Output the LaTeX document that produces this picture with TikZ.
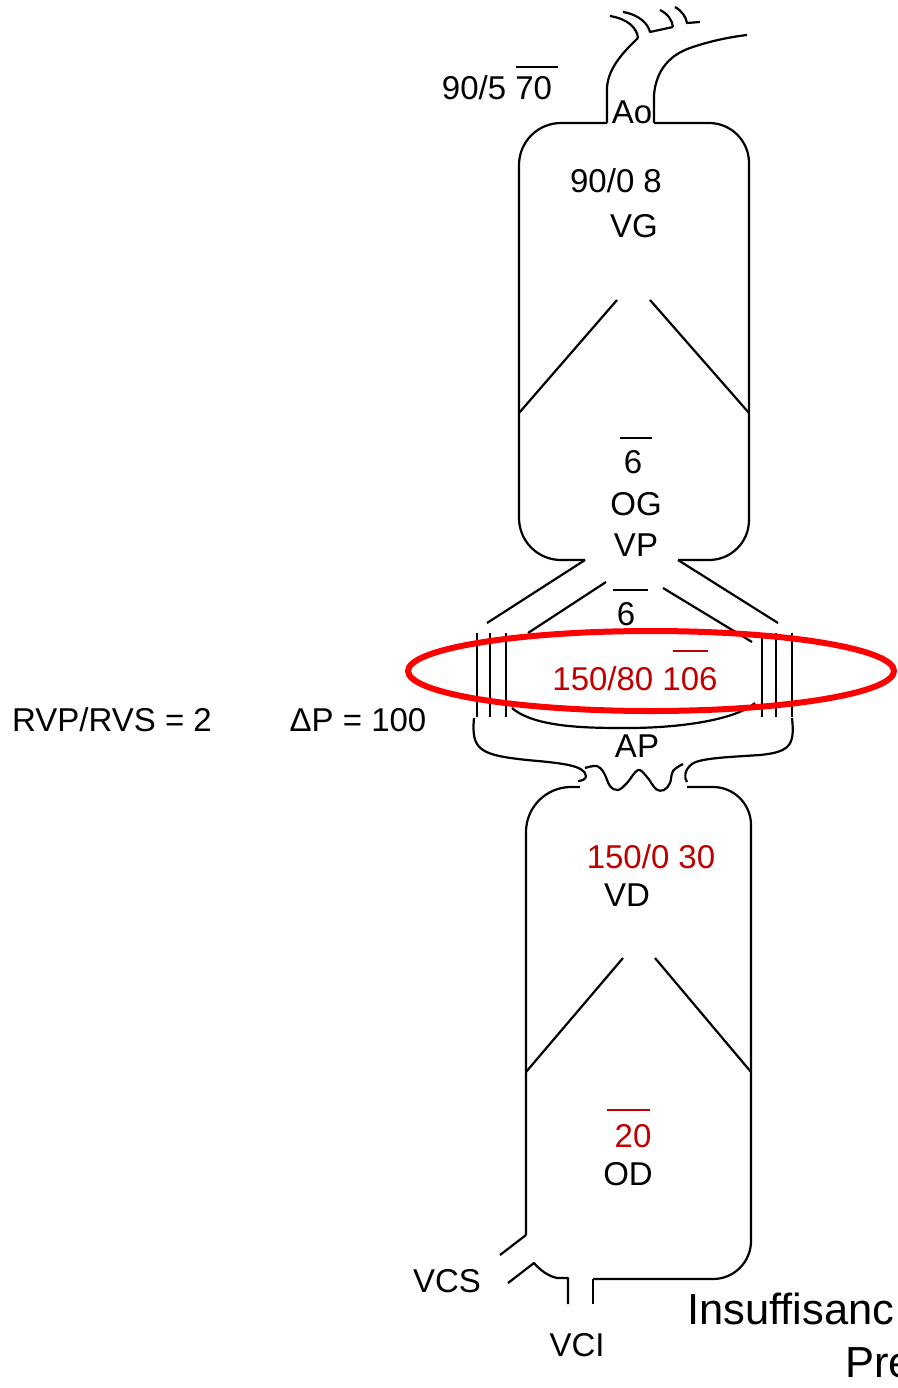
\documentclass[tikz,border=0pt]{standalone}
\usepackage{fontspec}
\setmainfont{Liberation Sans}
\begin{document}
\begin{tikzpicture}[x=1pt,y=-1pt,
  wall/.style={line width=2.2pt,line join=round},
  lbl/.style={inner sep=0pt,anchor=base,font=\fontsize{33}{39}\selectfont},
  big/.style={inner sep=0pt,anchor=base west,font=\fontsize{43.5}{50}\selectfont},
  bar/.style={line width=2.2pt},
  hot/.style={text=darkred}]
\definecolor{darkred}{RGB}{192,0,0}
\useasboundingbox (0,0) rectangle (897,1388);

% ---- aorta and its branches ----
\draw[wall] (607,123) -- (607,88) .. controls (608,70) and (620,55) .. (638,38);
\draw[wall] (654,123) -- (654,95) .. controls (656,70) and (670,55) .. (690,48)
            .. controls (710,41) and (730,37) .. (747,35);
\draw[wall] (610,16) .. controls (628,19) and (637,28) .. (638,38);
\draw[wall] (623,12) .. controls (640,15) and (648,24) .. (650,32) -- (673,27);
\draw[wall] (660,10) .. controls (668,14) and (672,20) .. (673,27);
\draw[wall] (675,7) .. controls (682,11) and (686,17) .. (687,23) -- (700,22);

% ---- left heart (OG / VG) ----
\draw[wall,rounded corners=42] (607,123) -- (519,123) -- (519,560) -- (585,560);
\draw[wall,rounded corners=40] (654,123) -- (749,123) -- (749,560) -- (678,560);
\draw[wall] (617,300) -- (519,413);
\draw[wall] (650,300) -- (749,413);

% ---- pulmonary veins and artery ----
\draw[wall] (585,560) -- (487,623);
\draw[wall] (678,560) -- (778,623);
\draw[wall] (606,582) -- (528,633);
\draw[wall] (663,588) -- (752,642);
\foreach \x in {477,490,506,762,776,792}
  \draw[wall] (\x,633) -- (\x,717);
\draw[wall] (512,708) .. controls (535,728) and (590,728) .. (627,728)
            .. controls (680,728) and (735,720) .. (755,703);
\draw[wall] (474,718) .. controls (471,750) and (480,755) .. (527,760)
            .. controls (560,763) and (585,765) .. (586,776)
            .. controls (586,779) and (582,781) .. (578,781);
\draw[wall] plot[smooth,tension=0.6] coordinates {(585,768) (597,766) (604,773)
  (610,786) (618,790) (627,783) (638,770) (647,777) (656,789) (664,790)
  (670,783) (673,771) (683,764)};
\draw[wall] (792,718) .. controls (795,745) and (790,752) .. (760,755)
            .. controls (730,757) and (700,758) .. (692,764)
            .. controls (684,770) and (684,778) .. (687,782);

% ---- right heart (OD / VD) ----
\draw[wall,rounded corners=45] (580,787) -- (526,787) -- (526,1235);
\draw[wall] (526,1235) -- (500,1255);
\draw[wall,rounded corners=38] (687,787) -- (751,787) -- (751,1279) -- (593,1279);
\draw[wall] (593,1279) -- (593,1304);
\draw[wall] (568,1304) -- (568,1278) -- (557,1278)
            .. controls (548,1276) and (540,1270) .. (534,1263) -- (508,1283);
\draw[wall] (623,958) -- (526,1072);
\draw[wall] (655,958) -- (751,1072);

% ---- labels ----
\node[lbl] (aoP) at (497,100) {90/5 70};
\draw[bar] (516,67) -- (558,67);
\node[lbl] (ao) at (632,124) {Ao};
\node[lbl] (vgP) at (616,193) {90/0 8};
\node[lbl] (vg) at (634,237) {VG};
\node[lbl] (ogP) at (633,473) {6};
\draw[bar] (620,438) -- (652,438);
\node[lbl] (og) at (636,515) {OG};
\node[lbl] (vp) at (636,556) {VP};
\node[lbl] (vpP) at (626,625) {6};
\draw[bar] (613,590) -- (648,590);
\node[lbl,hot] (apP) at (635,690) {150/80 106};
\draw[bar,darkred] (673,651) -- (708,651);
\node[lbl] (ap) at (637,757) {AP};
\node[lbl] (ratio) at (112,731) {RVP/RVS = 2};
\node[lbl] (dp) at (358,731) {ΔP = 100};
\node[lbl,hot] (vdP) at (651,868) {150/0 30};
\node[lbl] (vd) at (627,906) {VD};
\node[lbl,hot] (odP) at (633,1147) {20};
\draw[bar,darkred] (607,1110) -- (650,1110);
\node[lbl] (od) at (628,1185) {OD};
\node[lbl] (vcs) at (447,1292) {VCS};
\node[lbl] (vci) at (577,1356) {VCI};
\node[big] (title1) at (687,1324) {Insuffisanc};
\node[big] (title2) at (845,1377) {Pre};

% ---- highlight ring ----
\draw[red,line width=6pt] (651,671) ellipse [x radius=243pt,y radius=40pt];
\end{tikzpicture}
\end{document}
